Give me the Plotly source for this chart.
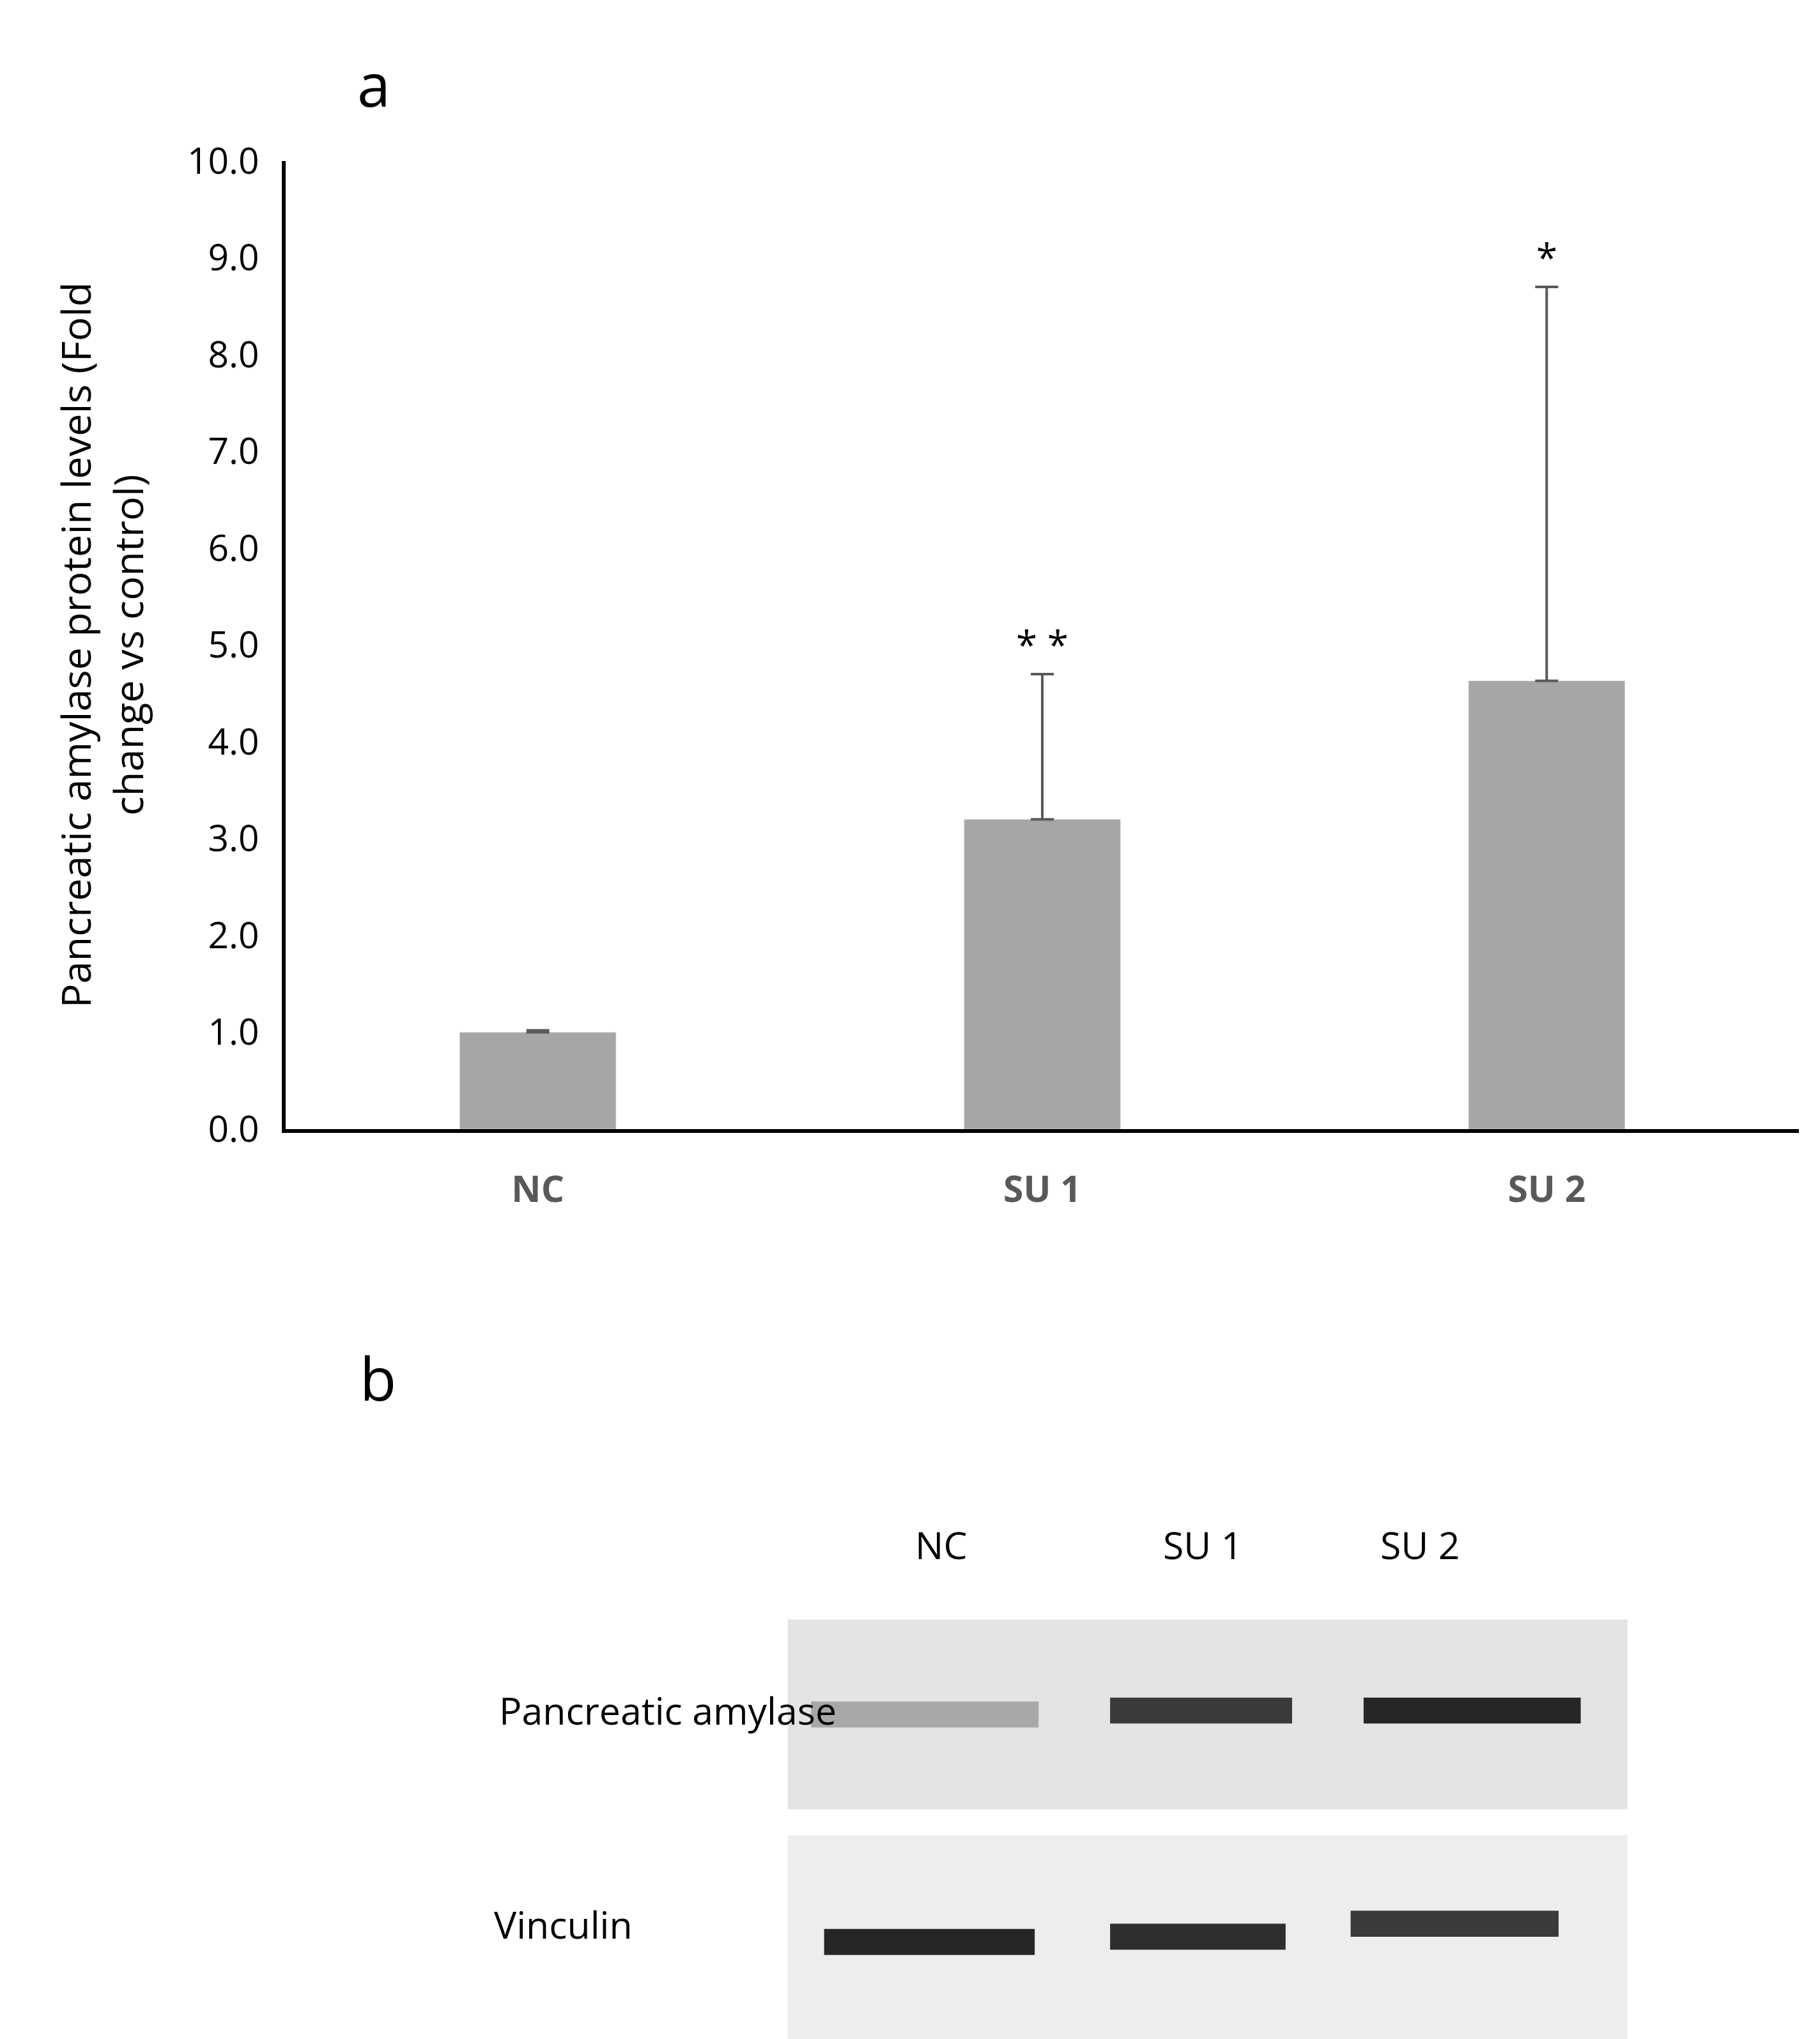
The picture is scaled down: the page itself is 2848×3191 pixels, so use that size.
import plotly.graph_objects as go

# panel a data
groups = ['NC', 'SU 1', 'SU 2']
fold_change = [1.0, 3.2, 4.63]
err_plus = [0.02, 1.5, 4.07]
stars = ['', '* *', '*']
y_ticks = [0, 1, 2, 3, 4, 5, 6, 7, 8, 9, 10]

# panel b (blot sketch, in 1400x1569 page units)
lane_labels = ['NC', 'SU 1', 'SU 2']
lane_x = [720, 921, 1120]
amylase_x0 = [620, 850, 1045]
amylase_x1 = [795, 990, 1212]
amylase_y = [1315, 1312, 1312]
amylase_shade = ['#a8a8a8', '#3a3a3a', '#262626']
vinculin_x0 = [630, 850, 1035]
vinculin_x1 = [792, 985, 1195]
vinculin_y = [1490, 1486, 1476]
vinculin_shade = ['#262626', '#2e2e2e', '#3a3a3a']

FONT = 'Open Sans'
W, H = 2848, 3191
S = W / 1400
L, R, T, B = 439, 41, 244, 1432


def px(x):
    return (x * S - L) / (W - L - R)


def py(y):
    return (H - B - y * S) / (H - T - B)


fig = go.Figure()
fig.add_trace(go.Bar(
    x=groups, y=fold_change, width=0.31, marker_color='#A6A6A6',
    error_y=dict(type='data', array=err_plus, arrayminus=[0, 0, 0], symmetric=False,
                 color='#595959', thickness=4, width=18),
    showlegend=False))

for g, v, e, s in zip(groups, fold_change, err_plus, stars):
    if s:
        fig.add_annotation(x=g, y=v + e, text=s, showarrow=False, yanchor='bottom', yshift=4,
                           font=dict(size=60, color='black', family=FONT))

# blot: grey backgrounds then bands
fig.add_shape(type='rect', xref='paper', yref='paper', x0=px(602), x1=px(1248), y0=py(1242), y1=py(1388),
              fillcolor='#e4e4e4', line_width=0)
fig.add_shape(type='rect', xref='paper', yref='paper', x0=px(602), x1=px(1248), y0=py(1408), y1=py(1580),
              fillcolor='#ededed', line_width=0)
for x0s, x1s, ys, cs in [(amylase_x0, amylase_x1, amylase_y, amylase_shade),
                         (vinculin_x0, vinculin_x1, vinculin_y, vinculin_shade)]:
    for x0, x1, y, c in zip(x0s, x1s, ys, cs):
        fig.add_shape(type='rect', xref='paper', yref='paper', x0=px(x0), x1=px(x1),
                      y0=py(y + 10), y1=py(y - 10), fillcolor=c, line_width=0)

def label(x, y, text, size):
    fig.add_annotation(x=px(x), y=py(y), xref='paper', yref='paper', text=text, showarrow=False,
                       font=dict(size=size * S, color='black', family=FONT))

for lx, lab in zip(lane_x, lane_labels):
    label(lx, 1205, lab, 29)
label(379, 1332, 'Pancreatic amylase', 29)
label(375, 1497, 'Vinculin', 29)
label(270, 28, 'a', 46)
label(272, 1088, 'b', 46)

fig.update_layout(
    width=W, height=H, plot_bgcolor='white', paper_bgcolor='white',
    margin=dict(l=L, r=R, t=T, b=B),
    font=dict(family=FONT, color='#1a1a1a'),
    xaxis=dict(showline=True, linecolor='black', linewidth=6, ticks='',
               tickfont=dict(size=28 * S, color='#595959', family=FONT, weight='bold'),
               ticklabelstandoff=40),
    yaxis=dict(range=[0, 10], tickvals=y_ticks, tickformat='.1f', showgrid=False,
               showline=True, linecolor='black', linewidth=6, ticks='', zeroline=False,
               tickfont=dict(size=28 * S, color='black'), ticklabelstandoff=24,
               title=dict(text='Pancreatic amylase protein levels (Fold<br>change vs control)',
                          font=dict(size=31 * S, color='black'), standoff=50)),
)

fig.write_html("out.html")
